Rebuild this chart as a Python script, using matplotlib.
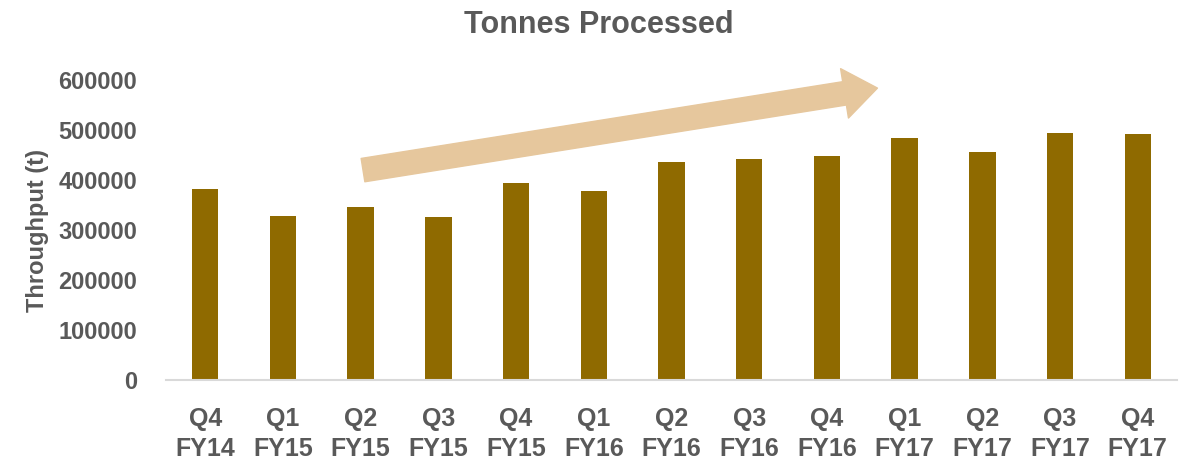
import numpy as np
import matplotlib.pyplot as plt

# quarterly throughput (tonnes)
quarters = ['Q4\nFY14', 'Q1\nFY15', 'Q2\nFY15', 'Q3\nFY15', 'Q4\nFY15', 'Q1\nFY16', 'Q2\nFY16',
            'Q3\nFY16', 'Q4\nFY16', 'Q1\nFY17', 'Q2\nFY17', 'Q3\nFY17', 'Q4\nFY17']
tonnes = [383000, 328000, 347000, 327000, 395000, 379000, 436000,
          443000, 449000, 485000, 456000, 494000, 492000]
yticks = [0, 100000, 200000, 300000, 400000, 500000, 600000]

plt.rcParams['font.family'] = ['Liberation Sans', 'DejaVu Sans']
plt.rcParams['font.weight'] = 'bold'

grey = '#595959'
bar_color = '#8F6A00'
arrow_color = '#E6C79D'

fig = plt.figure(figsize=(11.97, 4.63), dpi=100)
ax = fig.add_axes([0.139, 0.179, 0.844, 0.648])

x = np.arange(len(quarters))
ax.bar(x, tonnes, width=0.34, color=bar_color, zorder=2)

ax.set_xlim(-0.5, len(quarters) - 0.5)
ax.set_ylim(0, 600000)
ax.set_yticks(yticks)
ax.set_yticklabels([str(v) for v in yticks], fontsize=17)
ax.set_xticks(x)
ax.set_xticklabels(quarters, linespacing=1.35, fontsize=18)

for s in ['top', 'right', 'left']:
    ax.spines[s].set_visible(False)
ax.spines['bottom'].set_color('#D9D9D9')
ax.spines['bottom'].set_linewidth(1.5)
ax.tick_params(axis='both', length=0, labelcolor=grey)
ax.tick_params(axis='x', pad=19)
ax.tick_params(axis='y', pad=21)

ax.set_ylabel('Throughput (t)', fontsize=17, color=grey, fontweight='bold', labelpad=7)
# title is centred on the whole figure, not the axes
fig.text(0.5, 0.945, 'Tonnes Processed', fontsize=22, color=grey, fontweight='bold',
         ha='center', va='center')

# trend arrow
ax.annotate('', xy=(8.65, 584000), xytext=(2.03, 420000),
            arrowprops=dict(arrowstyle='simple,head_length=24,head_width=36,tail_width=17',
                            mutation_scale=1, color=arrow_color, shrinkA=0, shrinkB=0),
            zorder=3, annotation_clip=False)

fig.savefig('out.png', dpi=100)
